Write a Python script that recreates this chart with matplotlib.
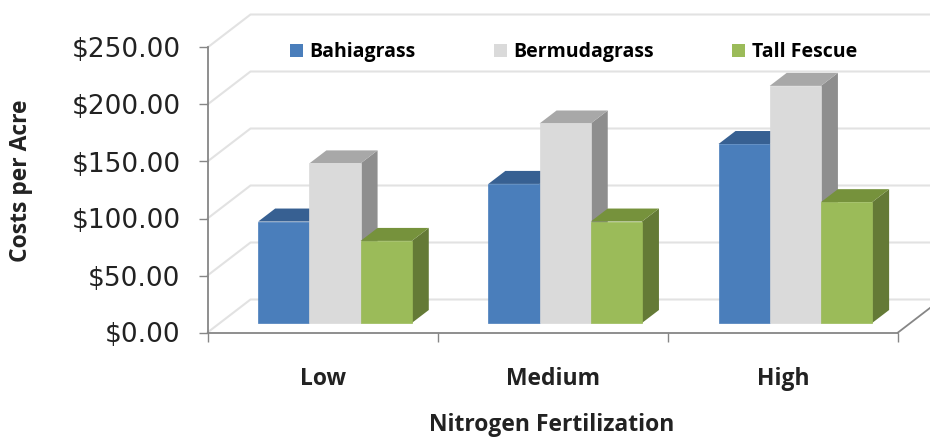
from matplotlib import pyplot as plt
from matplotlib.patches import Patch, Polygon
import numpy as np

plt.rcParams['font.family'] = ['Open Sans', 'DejaVu Sans']

categories = ['Low', 'Medium', 'High']
series_names = ['Bahiagrass', 'Bermudagrass', 'Tall Fescue']
bahiagrass = [89, 122, 157]
bermudagrass = [140, 175, 208]
tall_fescue = [72, 89, 106]
y_ticks = [0, 50, 100, 150, 200, 250]
y_labels = ['$0.00', '$50.00', '$100.00', '$150.00', '$200.00', '$250.00']

# front, top, side colours of each series
faces = [('#4a7ebb', '#376092', '#2f5580'),
         ('#dadada', '#a8a8a8', '#8e8e8e'),
         ('#9bbb59', '#76923c', '#647a36')]

W, H = 930, 437
fig = plt.figure(figsize=(W / 100, H / 100), dpi=100)
ax = fig.add_axes([207.5 / W, 1 - 332.5 / H, 690.5 / W, 285 / H])
ax.set_xlim(0, 3)
ax.set_ylim(0, 250)
ax.patch.set_visible(False)

# pixel to data scale of the 3d look
px_x = 3 / 690.5
px_y = 250 / 285
wall_dx, wall_dy = 43 * px_x, 33 * px_y
base_dx, base_dy = 12.4 * px_x, 9.5 * px_y
bar_dx, bar_dy = 17 * px_x, 13 * px_y
bar_w = 51.2 * px_x

# walls and floor
grid = '#e2e2e2'
right = (W - 207.5) * px_x
for v in y_ticks:
    ax.plot([0, wall_dx, right], [v, v + wall_dy, v + wall_dy], color=grid,
            lw=1.5, clip_on=False, zorder=1)
ax.plot([3, right], [0, (right - 3) / wall_dx * wall_dy], color='#868686',
        lw=1.3, clip_on=False, zorder=2)

# bars, left to right so the later ones hide the sides
for i in range(len(categories)):
    x0 = i + 0.5 - 1.5 * bar_w + base_dx
    for j, values in enumerate([bahiagrass, bermudagrass, tall_fescue]):
        front, top, side = faces[j]
        x = x0 + j * bar_w
        v = values[i]
        y = base_dy
        t = y + v
        ax.add_patch(Polygon([(x + bar_w, y), (x + bar_w + bar_dx, y + bar_dy),
                              (x + bar_w + bar_dx, t + bar_dy), (x + bar_w, t)],
                             fc=side, ec='none', zorder=3 + i * 3 + j, clip_on=False))
        ax.add_patch(Polygon([(x, t), (x + bar_dx, t + bar_dy),
                              (x + bar_w + bar_dx, t + bar_dy), (x + bar_w, t)],
                             fc=top, ec='none', zorder=3 + i * 3 + j, clip_on=False))
        ax.add_patch(Polygon([(x, y), (x + bar_w, y), (x + bar_w, t), (x, t)],
                             fc=front, ec=front, lw=0.5, zorder=3 + i * 3 + j, clip_on=False))

for side in ['top', 'right']:
    ax.spines[side].set_visible(False)
for side in ['left', 'bottom']:
    ax.spines[side].set_color('#868686')
    ax.spines[side].set_linewidth(1.3)

ax.set_yticks(y_ticks)
ax.set_yticklabels(y_labels, fontsize=19, family=['DejaVu Sans'])
ax.tick_params(axis='y', length=6.5, width=1, color='#868686', pad=13, labelcolor='#222222')
ax.set_xticks([0, 1, 2, 3])
ax.set_xticklabels([])
ax.tick_params(axis='x', length=6.5, width=1, color='#868686')
ax.set_xticks([0.5, 1.5, 2.5], minor=True)
ax.set_xticklabels(categories, minor=True, fontsize=16.5, fontweight='bold', color='#222222')
ax.tick_params(axis='x', which='minor', length=0, pad=25)

fig.text(552 / W, 1 - 425 / H, 'Nitrogen Fertilization', ha='center', va='center',
         fontsize=16.5, fontweight='bold', color='#222222')
fig.text(21 / W, 1 - 181 / H, 'Costs per Acre', ha='center', va='center', rotation=90,
         fontsize=16.5, fontweight='bold', color='#222222')

handles = [Patch(fc=f[0], ec='none') for f in faces]
fig.legend(handles, series_names, loc='center', bbox_to_anchor=(573.5 / W, 1 - 52 / H), ncol=3,
           frameon=False, columnspacing=4, handlelength=0.67, handleheight=0.67,
           handletextpad=0.36, prop={'size': 14, 'weight': 'bold'})

fig.savefig('out.png', dpi=100)
